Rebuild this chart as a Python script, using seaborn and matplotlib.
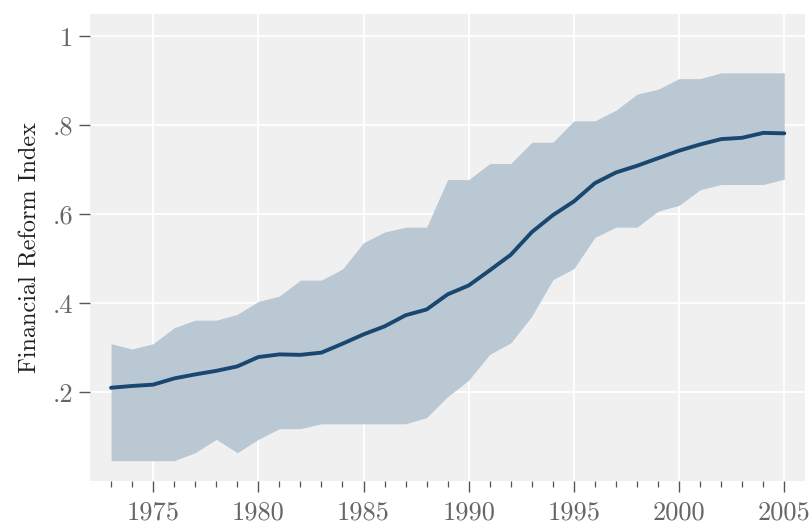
import pandas as pd
import matplotlib
matplotlib.use("Agg")
import matplotlib.pyplot as plt
import seaborn as sns

# data
years = list(range(1973, 2006))
mean_index = [0.210, 0.214, 0.217, 0.231, 0.240, 0.248, 0.258, 0.279, 0.285, 0.284,
              0.289, 0.309, 0.330, 0.348, 0.373, 0.386, 0.420, 0.440, 0.474, 0.509,
              0.560, 0.598, 0.629, 0.670, 0.694, 0.709, 0.726, 0.743, 0.757, 0.769,
              0.772, 0.783, 0.782]
upper_band = [0.309, 0.297, 0.309, 0.345, 0.362, 0.362, 0.375, 0.404, 0.416, 0.452,
              0.452, 0.477, 0.536, 0.560, 0.571, 0.571, 0.678, 0.678, 0.714, 0.714,
              0.762, 0.762, 0.810, 0.810, 0.834, 0.870, 0.881, 0.905, 0.905, 0.918,
              0.918, 0.918, 0.918]
lower_band = [0.046, 0.046, 0.046, 0.046, 0.064, 0.094, 0.064, 0.094, 0.118, 0.118,
              0.129, 0.129, 0.129, 0.129, 0.129, 0.143, 0.190, 0.227, 0.285, 0.311,
              0.371, 0.453, 0.478, 0.548, 0.571, 0.571, 0.607, 0.620, 0.655, 0.667,
              0.667, 0.667, 0.679]

ytick_vals = [0.2, 0.4, 0.6, 0.8, 1.0]
ytick_labels = [".2", ".4", ".6", ".8", "1"]
xtick_vals = [1975, 1980, 1985, 1990, 1995, 2000, 2005]

df = pd.DataFrame({"Year": years, "Mean": mean_index,
                   "Upper": upper_band, "Lower": lower_band})

sns.set_theme(style="darkgrid")
plt.rcParams["font.family"] = ["cmr10", "DejaVu Serif"]
plt.rcParams["mathtext.fontset"] = "cm"
plt.rcParams["axes.unicode_minus"] = False

fig = plt.figure(figsize=(8.11, 5.23), dpi=100)
ax = fig.add_axes([0.111, 0.080, 0.882, 0.893])
ax.set_facecolor("#f0f0f0")

ax.fill_between(df["Year"], df["Lower"], df["Upper"], color="#bac8d4", linewidth=0, zorder=2)
sns.lineplot(data=df, x="Year", y="Mean", ax=ax, color="#1a476f", linewidth=2.8, zorder=3)

ax.set_xlim(1972, 2006)
ax.set_ylim(0, 1.05)

ax.set_xticks(xtick_vals)
ax.set_xticklabels([str(v) for v in xtick_vals])
ax.set_xticks(years, minor=True)
ax.set_yticks(ytick_vals)
ax.set_yticklabels(ytick_labels)

ax.grid(True, which="major", color="white", linewidth=1.3)
ax.grid(False, which="minor")
for s in ax.spines.values():
    s.set_visible(False)

ax.tick_params(axis="x", which="major", length=8, width=1.0, color="#555555",
               labelsize=19, labelcolor="#666666", pad=6, bottom=True)
ax.tick_params(axis="x", which="minor", length=4.5, width=0.9, color="#555555", bottom=True)
ax.tick_params(axis="y", which="major", length=8, width=1.0, color="#555555",
               labelsize=19, labelcolor="#666666", pad=4, left=True)

ax.set_xlabel("")
ax.set_ylabel("Financial Reform Index", fontsize=17.5, color="#222222", labelpad=8)

fig.savefig("out.png", dpi=100, facecolor="white")
